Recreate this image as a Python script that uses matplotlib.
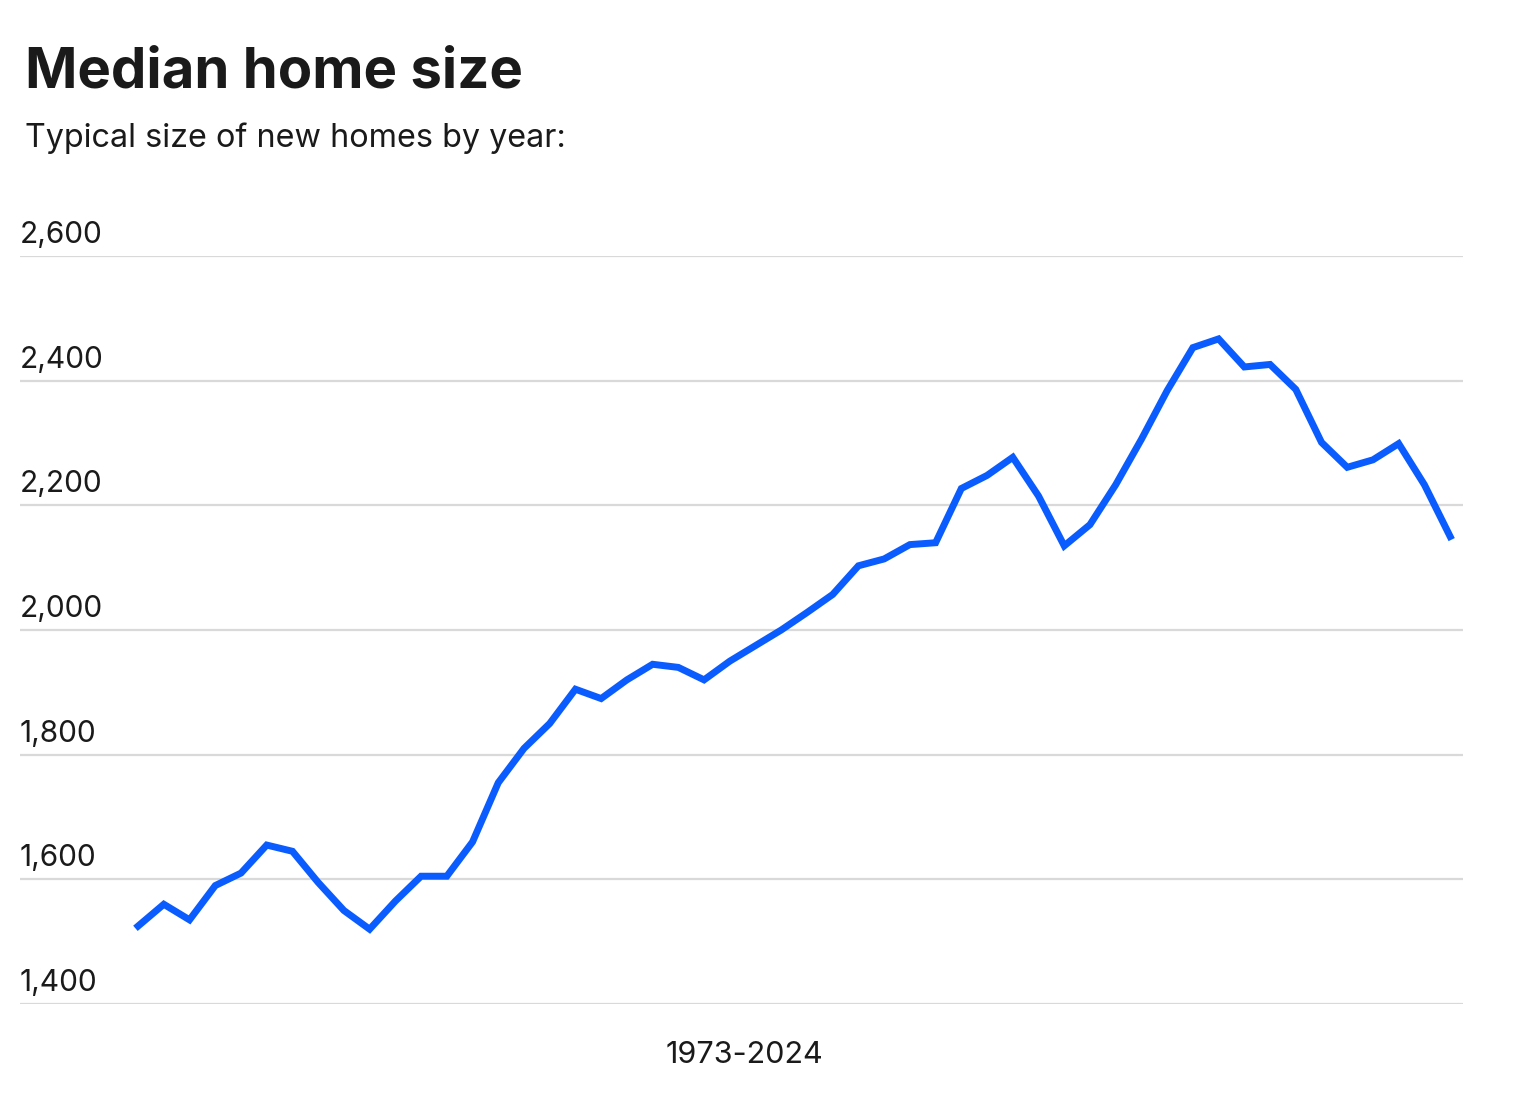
import matplotlib.pyplot as plt
import matplotlib.transforms as mtransforms
import numpy as np

plt.rcParams['font.family'] = ['Inter', 'DejaVu Sans']

# median size of new single-family homes (sq ft), 1973-2024
years = list(range(1973, 2025))
sizes = [1525, 1560, 1535, 1590, 1610, 1655, 1645, 1595, 1550, 1520,
         1565, 1605, 1605, 1660, 1755, 1810, 1850, 1905, 1890, 1920,
         1945, 1940, 1920, 1950, 1975, 2000, 2028, 2057, 2103, 2114,
         2137, 2140, 2227, 2248, 2277, 2215, 2135, 2169, 2233, 2306,
         2384, 2453, 2467, 2422, 2426, 2386, 2301, 2261, 2273, 2299,
         2233, 2150]
yticks = [1400, 1600, 1800, 2000, 2200, 2400, 2600]

fig = plt.figure(figsize=(15.24, 11), dpi=100)
ax = fig.add_axes([20/1524, 96/1100, 1443/1524, 748/1100])

x = np.arange(len(years))
ax.plot(x, sizes, c='#0A5CFF', lw=5, solid_joinstyle='miter', zorder=3)

ax.set_xlim(-4.59, len(years) - 0.5)
ax.set_ylim(1400, 2600)
for v in yticks:
    ax.axhline(v, c='#d9d9d9', lw=1.6, zorder=1)

# tick labels sit on top of the gridlines, left aligned
trans = mtransforms.blended_transform_factory(ax.transAxes, ax.transData)
for v in yticks:
    ax.annotate(f'{v:,}', xy=(0, v), xycoords=trans, xytext=(0, 5),
                textcoords='offset points', ha='left', va='bottom',
                fontsize=21.5, color='#1a1a1a')

ax.set_xticks([])
ax.set_yticks([])
for s in ax.spines.values():
    s.set_visible(False)

fig.text(744/1524, 1 - 1063/1100, f'{years[0]}-{years[-1]}', ha='center',
         va='baseline', fontsize=22, color='#1a1a1a')
fig.text(25/1524, 1 - 87/1100, 'Median home size', ha='left', va='baseline',
         fontsize=40.5, fontweight='bold', color='#1a1a1a')
fig.text(25/1524, 1 - 147/1100, 'Typical size of new homes by year:',
         ha='left', va='baseline', fontsize=23.3, color='#1a1a1a')

fig.savefig('out.png', dpi=100, facecolor='white')
